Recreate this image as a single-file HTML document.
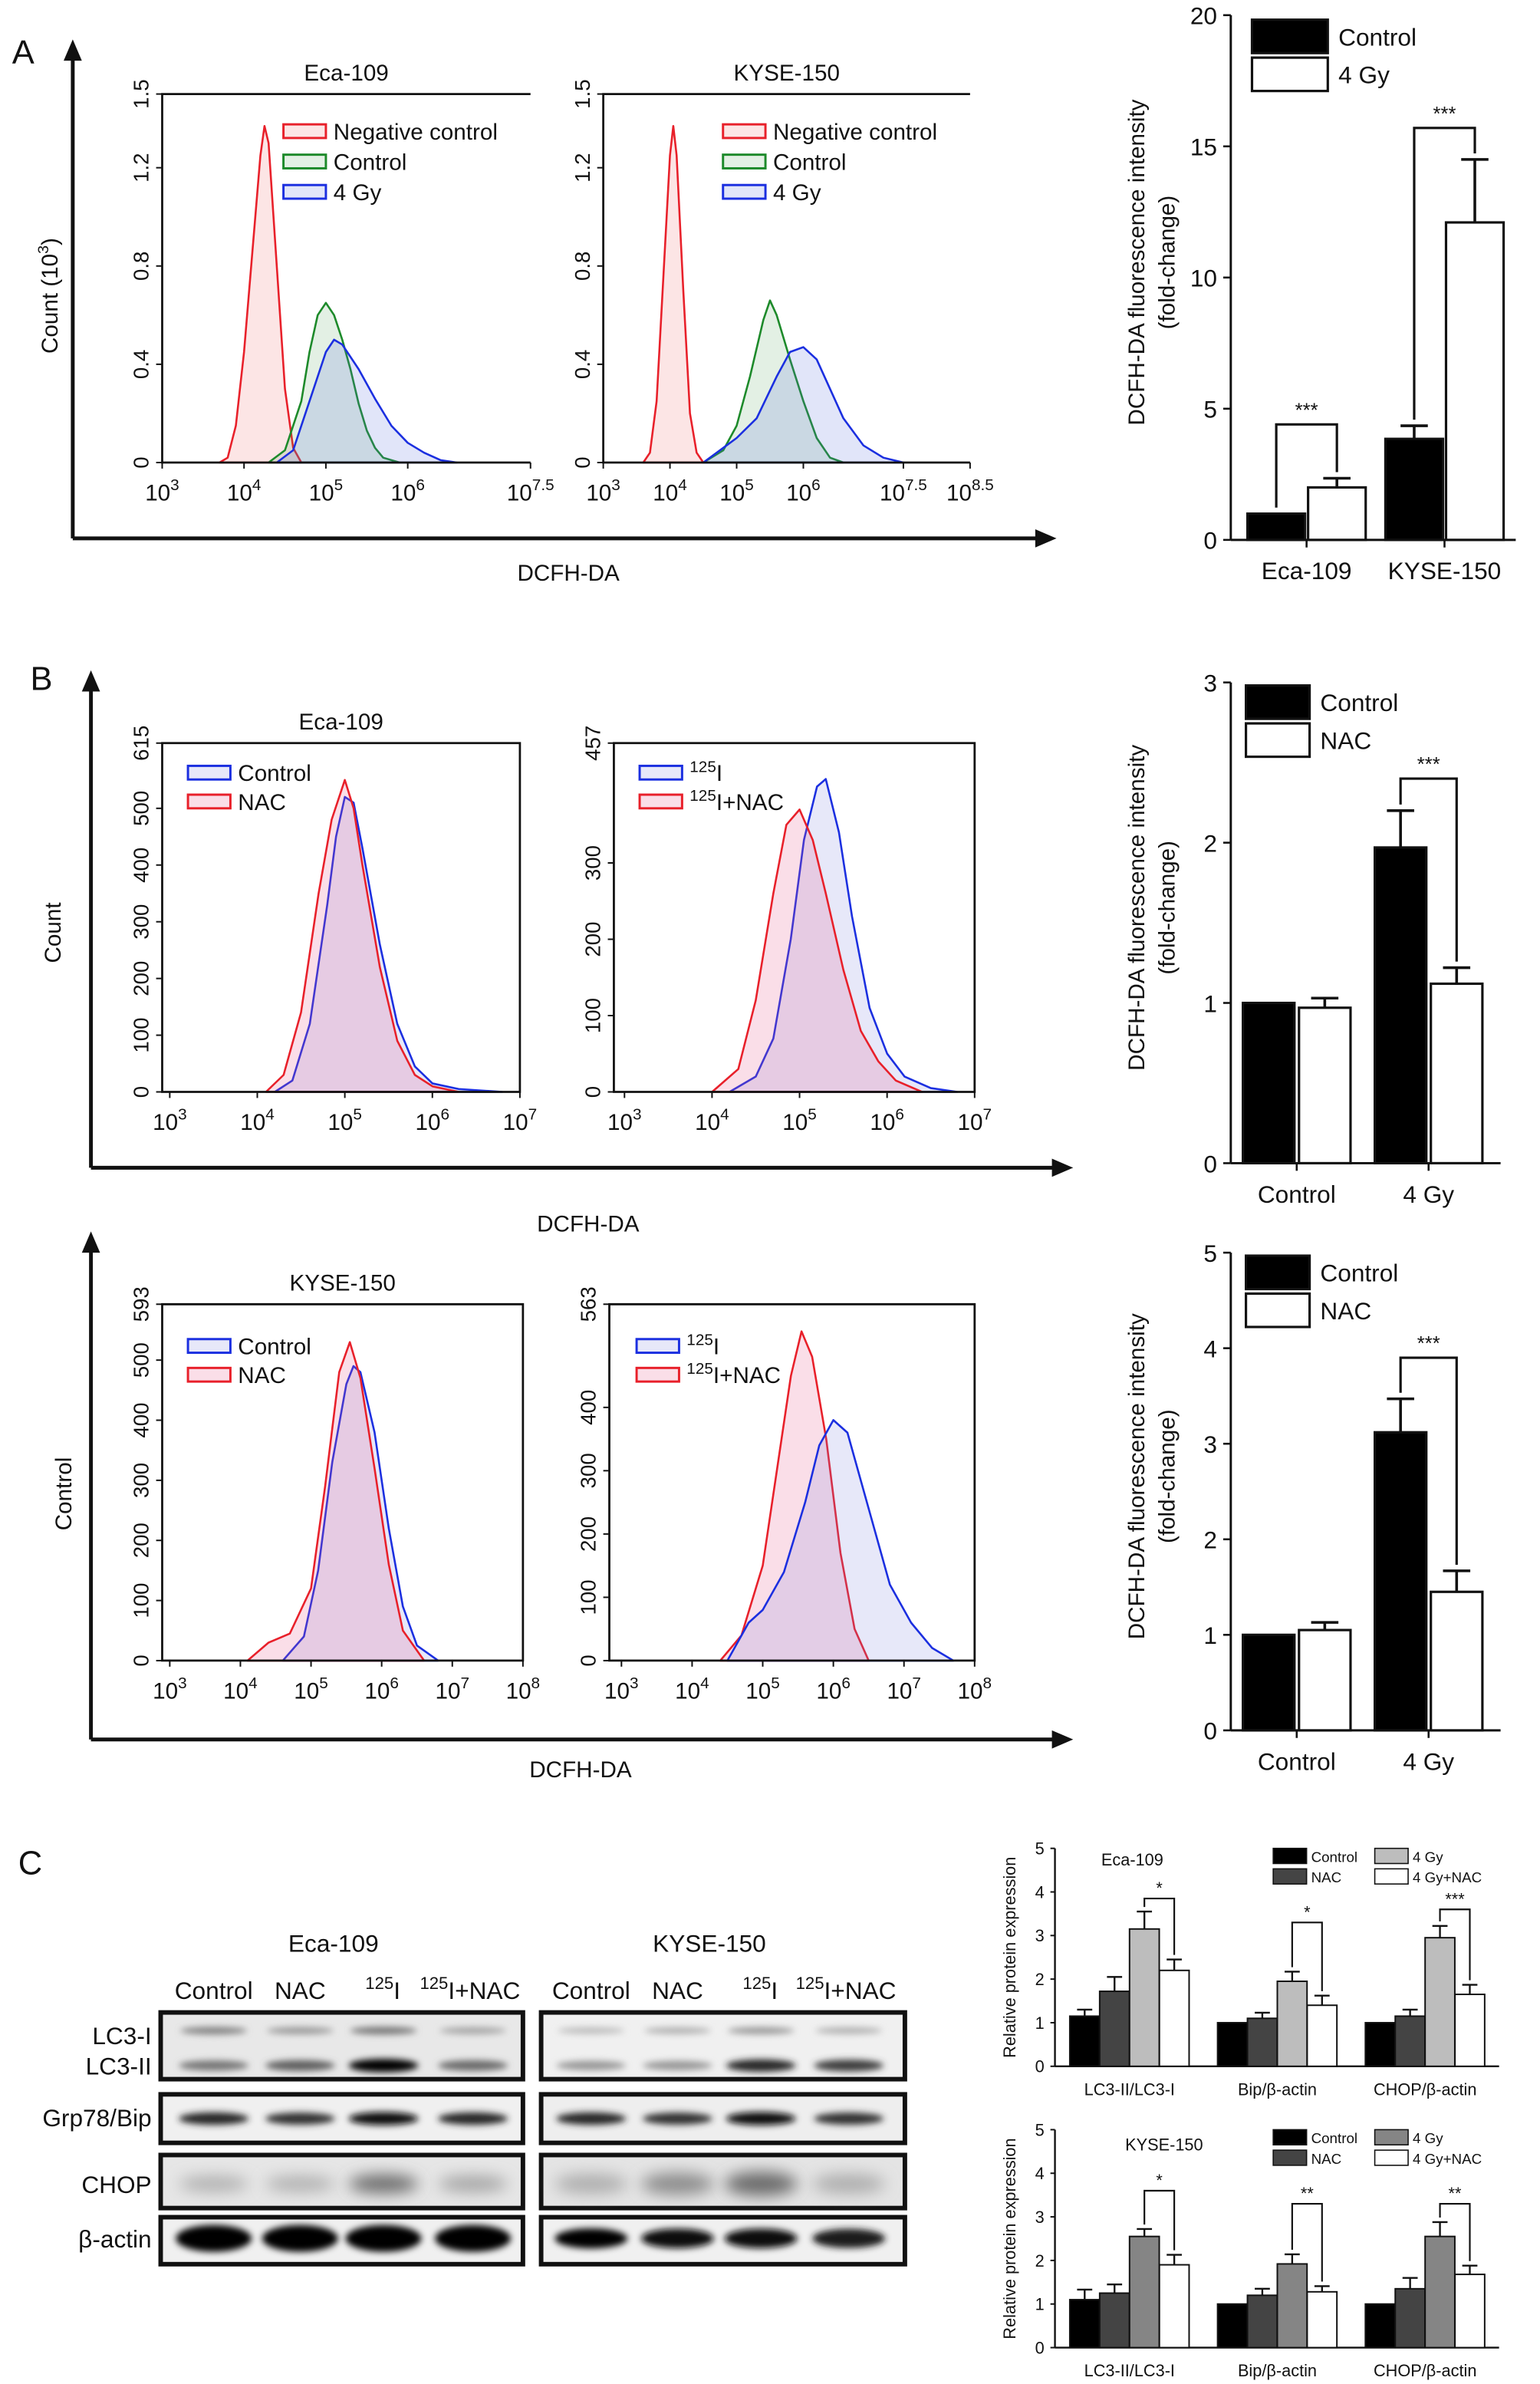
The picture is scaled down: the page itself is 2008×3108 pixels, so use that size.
<!DOCTYPE html>
<html><head><meta charset="utf-8">
<style>
html,body{margin:0;padding:0;background:#fff;}
svg{display:block;}
text{font-family:"Liberation Sans",sans-serif;fill:#111;}
</style></head>
<body>
<svg id="fig" width="2008" height="3108" viewBox="0 0 1016 1572" preserveAspectRatio="none" xmlns="http://www.w3.org/2000/svg">
<defs>
<filter id="blur" x="-30%" y="-100%" width="160%" height="300%"><feGaussianBlur stdDeviation="2.2"/></filter>
<filter id="blur2" x="-30%" y="-100%" width="160%" height="300%"><feGaussianBlur stdDeviation="5"/></filter>
</defs>
</svg>
<script>
// ---------- DATA ----------
const aEcaNegX=[3.7,3.8,3.9,4.0,4.1,4.2,4.25,4.3,4.4,4.5,4.6,4.7];
const aEcaNegY=[0,0.02,0.15,0.45,0.85,1.25,1.37,1.3,0.8,0.3,0.06,0];
const aEcaCtlX=[4.3,4.5,4.7,4.8,4.9,5.0,5.1,5.2,5.3,5.4,5.5,5.6,5.7,5.9];
const aEcaCtlY=[0,0.05,0.25,0.45,0.6,0.65,0.6,0.5,0.38,0.24,0.13,0.06,0.02,0];
const aEcaGyX=[4.4,4.6,4.8,5.0,5.1,5.2,5.4,5.6,5.8,6.0,6.2,6.4,6.6];
const aEcaGyY=[0,0.05,0.25,0.45,0.5,0.48,0.38,0.26,0.15,0.08,0.04,0.01,0];
const aKyNegX=[3.6,3.7,3.8,3.9,4.0,4.05,4.1,4.2,4.3,4.4,4.5];
const aKyNegY=[0,0.04,0.25,0.75,1.25,1.37,1.25,0.7,0.2,0.04,0];
const aKyCtlX=[4.5,4.8,5.0,5.2,5.4,5.5,5.6,5.8,6.0,6.2,6.4,6.6];
const aKyCtlY=[0,0.05,0.15,0.35,0.58,0.66,0.6,0.42,0.25,0.1,0.02,0];
const aKyGyX=[4.5,4.8,5.0,5.3,5.6,5.8,6.0,6.2,6.4,6.6,6.9,7.2,7.5];
const aKyGyY=[0,0.06,0.1,0.18,0.35,0.45,0.47,0.42,0.3,0.18,0.07,0.02,0];
const b1CtlX=[4.2,4.4,4.6,4.8,4.9,5.0,5.1,5.2,5.4,5.6,5.8,6.0,6.3,6.8];
const b1CtlY=[0,20,120,330,450,520,510,430,260,120,45,15,5,0];
const b1NacX=[4.1,4.3,4.5,4.7,4.85,5.0,5.1,5.2,5.4,5.6,5.8,6.0,6.3];
const b1NacY=[0,30,140,350,480,550,500,400,220,90,30,10,0];
const b1IX=[4.2,4.5,4.7,4.9,5.05,5.2,5.3,5.45,5.6,5.8,6.0,6.2,6.5,6.8];
const b1IY=[0,20,70,200,330,400,410,340,230,110,50,20,5,0];
const b1INX=[4.0,4.3,4.5,4.7,4.85,5.0,5.15,5.3,5.5,5.7,5.9,6.1,6.4];
const b1INY=[0,30,120,260,350,370,330,260,160,80,40,15,0];
const b2CtlX=[4.6,4.9,5.1,5.3,5.5,5.6,5.7,5.9,6.1,6.3,6.5,6.8];
const b2CtlY=[0,40,150,330,460,490,480,380,220,90,25,0];
const b2NacX=[4.1,4.4,4.7,5.0,5.2,5.4,5.55,5.7,5.9,6.1,6.3,6.6];
const b2NacY=[0,30,45,120,290,480,530,470,320,160,50,0];
const b2INX=[4.4,4.7,5.0,5.2,5.4,5.55,5.7,5.9,6.1,6.3,6.5];
const b2INY=[0,40,150,300,450,520,480,350,170,50,0];
const b2IX=[4.5,4.8,5.0,5.3,5.6,5.8,6.0,6.2,6.5,6.8,7.1,7.4,7.7];
const b2IY=[0,60,80,140,250,340,380,360,240,120,60,20,0];
const barAcats=["Eca-109","KYSE-150"];
const barActl=[1,3.85]; const barActlErr=[0,0.5];
const barAgy=[2.0,12.1]; const barAgyErr=[0.35,2.4];
const barAticks=[0,5,10,15,20];
const barB1cats=["Control","4 Gy"];
const barB1ctl=[1,1.97]; const barB1ctlErr=[0,0.23];
const barB1nac=[0.97,1.12]; const barB1nacErr=[0.06,0.1];
const barB1ticks=[0,1,2,3];
const barB2ctl=[1,3.12]; const barB2ctlErr=[0,0.35];
const barB2nac=[1.05,1.45]; const barB2nacErr=[0.08,0.22];
const barB2ticks=[0,1,2,3,4,5];
const cCats=["LC3-II/LC3-I","Bip/β-actin","CHOP/β-actin"];
const cEcaVals=[[1.15,1.72,3.15,2.2],[1,1.1,1.95,1.4],[1,1.15,2.95,1.65]];
const cEcaErr=[[0.15,0.33,0.4,0.25],[0,0.13,0.22,0.22],[0,0.15,0.27,0.22]];
const cEcaSig=["*","*","***"]; const cEcaSigY=[3.85,3.3,3.6];
const cKyVals=[[1.1,1.25,2.55,1.9],[1,1.2,1.92,1.28],[1,1.35,2.55,1.68]];
const cKyErr=[[0.23,0.2,0.17,0.23],[0,0.15,0.22,0.13],[0,0.25,0.33,0.2]];
const cKySig=["*","**","**"]; const cKySigY=[3.6,3.3,3.3];
const cTicks=[0,1,2,3,4,5];
const wbEcaLC3I=[0.45,0.35,0.5,0.3]; const wbEcaLC3II=[0.5,0.6,1.0,0.55];
const wbEcaBip=[0.85,0.8,0.95,0.85]; const wbEcaCHOP=[0.25,0.25,0.55,0.3]; const wbEcaAct=[1,1,1,1];
const wbKyLC3I=[0.2,0.25,0.35,0.25]; const wbKyLC3II=[0.35,0.35,0.85,0.75];
const wbKyBip=[0.85,0.8,0.95,0.8]; const wbKyCHOP=[0.25,0.4,0.55,0.25]; const wbKyAct=[1,0.95,0.95,0.9];

// ---------- HELPERS ----------
const NS='http://www.w3.org/2000/svg';
const svg=document.getElementById('fig');
function mk(tag,attrs,parent){const e=document.createElementNS(NS,tag);for(const k in attrs)e.setAttribute(k,attrs[k]);(parent||svg).appendChild(e);return e;}
function txt(x,y,s,size,anchor,rot){const t=mk('text',{x:x,y:y,'font-size':size,'text-anchor':anchor||'middle'});if(rot)t.setAttribute('transform','rotate('+rot+' '+x+' '+y+')');t.textContent=s;return t;}
function sup(x,y,base,exp,size,anchor){const t=mk('text',{x:x,y:y,'font-size':size,'text-anchor':anchor||'middle'});const a=mk('tspan',{},t);a.textContent=base;const b=mk('tspan',{dy:-size*0.45,'font-size':size*0.7},t);b.textContent=exp;return t;}
function iso(x,y,rest,size,anchor){const t=mk('text',{x:x,y:y,'font-size':size,'text-anchor':anchor||'start'});const b=mk('tspan',{dy:-size*0.4,'font-size':size*0.7},t);b.textContent='125';const a=mk('tspan',{dy:size*0.4},t);a.textContent=rest;return t;}

function hist(cfg){
  const g=mk('g',{});
  
  
  const sx=v=>cfg.x0+(v-cfg.dmin)/(cfg.dmax-cfg.dmin)*(cfg.x1-cfg.x0);
  const sy=v=>cfg.yb-v/cfg.ymax*(cfg.yb-cfg.yt);
  cfg.curves.forEach(c=>{
    let d='M'+sx(c.xs[0])+','+sy(0);
    c.xs.forEach((x,i)=>{d+=' L'+sx(x).toFixed(1)+','+sy(c.ys[i]).toFixed(1);});
    const p=mk('path',{d:d+' Z',fill:c.fill,stroke:c.stroke,'stroke-width':1.3,'stroke-linejoin':'round'},g);
    
    
  });
  const frame=mk('path',{d:cfg.box?`M${cfg.bx},${cfg.yt} H${cfg.x1} V${cfg.yb} H${cfg.bx} Z`:`M${cfg.x1},${cfg.yt} H${cfg.bx} V${cfg.yb} H${cfg.x1}`,fill:'none',stroke:'#111','stroke-width':1.4},g);
  
  
  cfg.yticks.forEach((v,i)=>{
    const y=sy(v);
    mk('line',{x1:cfg.bx-4,x2:cfg.bx,y1:y,y2:y,stroke:'#111','stroke-width':1},g);
    const t=txt(cfg.bx-9,y,cfg.ylabels[i],14,'middle',-90);
    
    
  });
  cfg.xticks.forEach(v=>{
    const x=sx(v);
    mk('line',{x1:x,x2:x,y1:cfg.yb,y2:cfg.yb+4,stroke:'#111','stroke-width':1},g);
    const t=sup(x,cfg.yb+25,'10',String(v),15,'middle');
    
    
  });
  if(cfg.title){const t=txt((cfg.bx+cfg.x1)/2,cfg.yt-9,cfg.title,15);
    
    }
  cfg.legend.forEach((l,i)=>{
    const y=cfg.ly+i*cfg.lstep;
    const r=mk('rect',{x:cfg.lx,y:y-9,width:28,height:9,fill:l.fill,stroke:l.stroke,'stroke-width':1.5},g);
    
    
    const t=l.iso?iso(cfg.lx+33,y+1,l.text,15):txt(cfg.lx+33,y+1,l.text,15,'start');
    
    
  });
}
const RED='#e8202a',GRN='#1d8a2a',BLU='#1b2fe0';
const fR='rgba(240,110,110,0.18)',fG='rgba(80,160,90,0.16)',fB='rgba(90,110,220,0.18)';
const fR2='rgba(230,90,140,0.2)',fB2='rgba(120,130,220,0.18)';
const legA=[{fill:fR,stroke:RED,text:'Negative control'},{fill:fG,stroke:GRN,text:'Control'},{fill:fB,stroke:BLU,text:'4 Gy'}];

hist({name:'histogram-a-eca109',bx:107,x0:107,x1:350,yt:62,yb:305,dmin:3,dmax:7.5,ymax:1.5,yticks:[0,0.4,0.8,1.2,1.5],ylabels:['0','0.4','0.8','1.2','1.5'],xticks:[3,4,5,6,7.5],title:'Eca-109',box:false,lx:187,ly:91,lstep:20,legend:legA,
 curves:[{name:'negative-control-curve',xs:aEcaNegX,ys:aEcaNegY,fill:fR,stroke:RED},{name:'control-curve',xs:aEcaCtlX,ys:aEcaCtlY,fill:fG,stroke:GRN},{name:'4gy-curve',xs:aEcaGyX,ys:aEcaGyY,fill:fB,stroke:BLU}]});
hist({name:'histogram-a-kyse150',bx:398,x0:398,x1:640,yt:62,yb:305,dmin:3,dmax:8.5,ymax:1.5,yticks:[0,0.4,0.8,1.2,1.5],ylabels:['0','0.4','0.8','1.2','1.5'],xticks:[3,4,5,6,7.5,8.5],title:'KYSE-150',box:false,lx:477,ly:91,lstep:20,legend:legA,
 curves:[{name:'negative-control-curve',xs:aKyNegX,ys:aKyNegY,fill:fR,stroke:RED},{name:'control-curve',xs:aKyCtlX,ys:aKyCtlY,fill:fG,stroke:GRN},{name:'4gy-curve',xs:aKyGyX,ys:aKyGyY,fill:fB,stroke:BLU}]});

hist({name:'histogram-b-eca109-nac',bx:107,x0:112,x1:343,yt:490,yb:720,dmin:3,dmax:7,ymax:615,yticks:[0,100,200,300,400,500,615],ylabels:['0','100','200','300','400','500','615'],xticks:[3,4,5,6,7],title:'Eca-109',box:true,lx:124,ly:514,lstep:19,
 legend:[{fill:fB2,stroke:BLU,text:'Control'},{fill:fR2,stroke:RED,text:'NAC'}],
 curves:[{name:'control-curve',xs:b1CtlX,ys:b1CtlY,fill:fB2,stroke:BLU},{name:'nac-curve',xs:b1NacX,ys:b1NacY,fill:fR2,stroke:RED}]});
hist({name:'histogram-b-eca109-125i',bx:405,x0:412,x1:643,yt:490,yb:720,dmin:3,dmax:7,ymax:457,yticks:[0,100,200,300,457],ylabels:['0','100','200','300','457'],xticks:[3,4,5,6,7],title:'',box:true,lx:422,ly:514,lstep:19,
 legend:[{fill:fB2,stroke:BLU,text:'I',iso:true},{fill:fR2,stroke:RED,text:'I+NAC',iso:true}],
 curves:[{name:'125i-curve',xs:b1IX,ys:b1IY,fill:fB2,stroke:BLU},{name:'125i-nac-curve',xs:b1INX,ys:b1INY,fill:fR2,stroke:RED}]});
hist({name:'histogram-b-kyse150-nac',bx:107,x0:112,x1:345,yt:860,yb:1095,dmin:3,dmax:8,ymax:593,yticks:[0,100,200,300,400,500,593],ylabels:['0','100','200','300','400','500','593'],xticks:[3,4,5,6,7,8],title:'KYSE-150',box:true,lx:124,ly:892,lstep:19,
 legend:[{fill:fB2,stroke:BLU,text:'Control'},{fill:fR2,stroke:RED,text:'NAC'}],
 curves:[{name:'control-curve',xs:b2CtlX,ys:b2CtlY,fill:fB2,stroke:BLU},{name:'nac-curve',xs:b2NacX,ys:b2NacY,fill:fR2,stroke:RED}]});
hist({name:'histogram-b-kyse150-125i',bx:402,x0:410,x1:643,yt:860,yb:1095,dmin:3,dmax:8,ymax:563,yticks:[0,100,200,300,400,563],ylabels:['0','100','200','300','400','563'],xticks:[3,4,5,6,7,8],title:'',box:true,lx:420,ly:892,lstep:19,
 legend:[{fill:fB2,stroke:BLU,text:'I',iso:true},{fill:fR2,stroke:RED,text:'I+NAC',iso:true}],
 curves:[{name:'125i-nac-curve',xs:b2INX,ys:b2INY,fill:fR2,stroke:RED},{name:'125i-curve',xs:b2IX,ys:b2IY,fill:fB2,stroke:BLU}]});

function arrowAxes(x,yt,yb,xr,name){
  const g=mk('g',{});
  
  
  mk('line',{x1:x,y1:yb,x2:x,y2:yt+8,stroke:'#111','stroke-width':2.5},g);
  mk('path',{d:`M${x-6},${yt+14} L${x},${yt} L${x+6},${yt+14} Z`,fill:'#111'},g);
  mk('line',{x1:x,y1:yb,x2:xr-8,y2:yb,stroke:'#111','stroke-width':2.5},g);
  mk('path',{d:`M${xr-14},${yb-6} L${xr},${yb} L${xr-14},${yb+6} Z`,fill:'#111'},g);
}
arrowAxes(48,26,355,697,'panel-a-axes');
arrowAxes(60,442,770,708,'panel-b-top-axes');
arrowAxes(60,812,1147,708,'panel-b-bottom-axes');
[[8,42,'A'],[20,455,'B'],[12,1236,'C']].forEach(p=>{const t=txt(p[0],p[1],p[2],22,'start');
 
 });
[[375,383],[388,812],[383,1172]].forEach(p=>{const t=txt(p[0],p[1],'DCFH-DA',15);
 
 });
{const t=mk('text',{x:38,y:195,'font-size':15,'text-anchor':'middle',transform:'rotate(-90 38 195)'});
 
 
 const a=mk('tspan',{},t);a.textContent='Count (10';const b=mk('tspan',{dy:-6,'font-size':10},t);b.textContent='3';const c=mk('tspan',{dy:6},t);c.textContent=')';}
{const t=txt(40,615,'Count',15,'middle',-90);}
{const t=txt(47,985,'Control',15,'middle',-90);}

function bar2(cfg){
  const g=mk('g',{});
  
  
  const sy=v=>cfg.yb-v/cfg.ymax*(cfg.yb-cfg.yt);
  mk('line',{x1:cfg.ax,x2:cfg.ax,y1:cfg.yt,y2:cfg.yb,stroke:'#111','stroke-width':1.5},g);
  mk('line',{x1:cfg.ax,x2:cfg.xr,y1:cfg.yb,y2:cfg.yb,stroke:'#111','stroke-width':1.5},g);
  cfg.ticks.forEach(v=>{mk('line',{x1:cfg.ax-5,x2:cfg.ax,y1:sy(v),y2:sy(v),stroke:'#111','stroke-width':1.3},g);
    const t=txt(cfg.ax-9,sy(v)+6,String(v),16,'end');
    
    });
  cfg.cats.forEach((c,i)=>{
    const gx=cfg.g0+i*cfg.gstep;
    [[cfg.a,cfg.aErr,'#000','control'],[cfg.b,cfg.bErr,'#fff',cfg.bname]].forEach((s,j)=>{
      const x=gx+j*(cfg.bw+cfg.gap), v=s[0][i], e=s[1][i];
      const r=mk('rect',{x:x,y:sy(v),width:cfg.bw,height:sy(0)-sy(v),fill:s[2],stroke:'#111','stroke-width':1.6},g);
      
      
      if(e>0){const cx=x+cfg.bw/2;mk('path',{d:`M${cx},${sy(v)} V${sy(v+e)} M${cx-9},${sy(v+e)} H${cx+9}`,stroke:'#111','stroke-width':1.8,fill:'none'},g);}
    });
    const t=txt(gx+cfg.bw+cfg.gap/2,cfg.yb+26,c,16);
    
    
    mk('line',{x1:gx+cfg.bw+cfg.gap/2,x2:gx+cfg.bw+cfg.gap/2,y1:cfg.yb,y2:cfg.yb+5,stroke:'#111','stroke-width':1.3},g);
  });
  cfg.sig.forEach(s=>{
    const gx=cfg.g0+s.i*cfg.gstep, x1=gx+cfg.bw/2, x2=gx+cfg.bw*1.5+cfg.gap;
    const v1=cfg.a[s.i]+cfg.aErr[s.i], v2=cfg.b[s.i]+cfg.bErr[s.i];
    const p=mk('path',{d:`M${x1},${sy(v1)-4} V${sy(s.y)} H${x2} V${sy(v2)-4}`,stroke:'#111','stroke-width':1.6,fill:'none'},g);
    
    
    const t=txt((x1+x2)/2,sy(s.y)-5,'***',13);
    
    
  });
  [['#000','Control'],['#fff',cfg.bname]].forEach((l,i)=>{
    const y=cfg.ly+i*cfg.lstep;
    const r=mk('rect',{x:cfg.lx,y:y,width:cfg.lw,height:cfg.lh,fill:l[0],stroke:'#111','stroke-width':1.6},g);
    
    
    const t=txt(cfg.lx+cfg.lw+7,y+cfg.lh-5,l[1],16,'start');
    
    
  });
  const cy=(cfg.yt+cfg.yb)/2-10;
  const t1=txt(cfg.tx,cy,'DCFH-DA fluorescence intensity',15,'middle',-90);
  
  
  const t2=txt(cfg.tx+20,cy,'(fold-change)',15,'middle',-90);
  
  
}
bar2({name:'bar-chart-a',ax:812,xr:1000,yt:10,yb:356,ymax:20,ticks:barAticks,cats:barAcats,a:barActl,aErr:barActlErr,b:barAgy,bErr:barAgyErr,bname:'4 Gy',
  g0:823,gstep:91,bw:38,gap:2,sig:[{i:0,y:4.4},{i:1,y:15.7}],lx:826,ly:13,lstep:25,lw:50,lh:22,tx:755});
bar2({name:'bar-chart-b-eca109',ax:812,xr:990,yt:450,yb:767,ymax:3,ticks:barB1ticks,cats:barB1cats,a:barB1ctl,aErr:barB1ctlErr,b:barB1nac,bErr:barB1nacErr,bname:'NAC',
  g0:820,gstep:87,bw:34,gap:3,sig:[{i:1,y:2.4}],lx:822,ly:452,lstep:25,lw:42,lh:22,tx:755});
bar2({name:'bar-chart-b-kyse150',ax:812,xr:990,yt:826,yb:1141,ymax:5,ticks:barB2ticks,cats:barB1cats,a:barB2ctl,aErr:barB2ctlErr,b:barB2nac,bErr:barB2nacErr,bname:'NAC',
  g0:820,gstep:87,bw:34,gap:3,sig:[{i:1,y:3.9}],lx:822,ly:828,lstep:25,lw:42,lh:22,tx:755});

const lanesL=[141,198,253,312], lanesR=[390,447,502,560];
function blot(x0,x1,rows,lanes,name){
  const g=mk('g',{});
  
  
  rows.forEach(r=>{
    const box=mk('rect',{x:x0,y:r.y0,width:x1-x0,height:r.y1-r.y0,fill:r.bg,stroke:'#111','stroke-width':3},g);
    
    
    r.bands.forEach(b=>{
      b.vals.forEach((v,i)=>{
        const c=Math.round(230-225*v);
        const e=mk('ellipse',{cx:lanes[i],cy:b.y,rx:b.rx,ry:b.ry*(0.6+0.5*v),fill:`rgb(${c},${c},${c})`,filter:b.soft?'url(#blur2)':'url(#blur)'},g);
        
        
      });
    });
  });
}
const rowsEca=[{y0:1327,y1:1371,bg:'#e8e8e8',bands:[{y:1339,rx:22,ry:3,vals:wbEcaLC3I},{y:1362,rx:23,ry:4,vals:wbEcaLC3II}]},
 {y0:1381,y1:1413,bg:'#f0f0f0',bands:[{y:1397,rx:23,ry:4,vals:wbEcaBip}]},
 {y0:1421,y1:1456,bg:'#e6e6e6',bands:[{y:1440,rx:23,ry:7,vals:wbEcaCHOP,soft:true}]},
 {y0:1462,y1:1493,bg:'#f0f0f0',bands:[{y:1476,rx:25,ry:8,vals:wbEcaAct}]}];
const rowsKy=[{y0:1327,y1:1371,bg:'#f0f0f0',bands:[{y:1339,rx:22,ry:3,vals:wbKyLC3I},{y:1362,rx:23,ry:4,vals:wbKyLC3II}]},
 {y0:1381,y1:1413,bg:'#eeeeee',bands:[{y:1397,rx:23,ry:4,vals:wbKyBip}]},
 {y0:1421,y1:1456,bg:'#e4e4e4',bands:[{y:1440,rx:24,ry:9,vals:wbKyCHOP,soft:true}]},
 {y0:1462,y1:1493,bg:'#f0f0f0',bands:[{y:1476,rx:24,ry:6,vals:wbKyAct}]}];
blot(106,345,rowsEca,lanesL,'western-blot-eca109');
blot(357,597,rowsKy,lanesR,'western-blot-kyse150');
[[220,1287,'Eca-109'],[468,1287,'KYSE-150']].forEach(p=>{const t=txt(p[0],p[1],p[2],16);});
[[lanesL,1318],[lanesR,1318]].forEach(p=>{
  ['Control','NAC'].forEach((s,i)=>{const t=txt(p[0][i],p[1],s,16);});
  {const t=iso(p[0][2]-12,p[1],'I',16);}
  {const t=iso(p[0][3]-35,p[1],'I+NAC',16);}
});
[[100,1348,'LC3-I'],[100,1368,'LC3-II'],[100,1402,'Grp78/Bip'],[100,1446,'CHOP'],[100,1482,'β-actin']].forEach(p=>{
  const t=txt(p[0],p[1],p[2],16,'end');});

function barC(cfg){
  const g=mk('g',{});
  
  
  const sy=v=>cfg.yb-v/5*(cfg.yb-cfg.yt);
  const bw=19.6, step=19.7, gstep=97.5, x0=705.8;
  mk('line',{x1:696,x2:696,y1:cfg.yt,y2:cfg.yb,stroke:'#111','stroke-width':1.2},g);
  mk('line',{x1:696,x2:989,y1:cfg.yb,y2:cfg.yb,stroke:'#111','stroke-width':1.2},g);
  cTicks.forEach(v=>{mk('line',{x1:693,x2:696,y1:sy(v),y2:sy(v),stroke:'#111'},g);
    const t=txt(689,sy(v)+4,String(v),11,'end');});
  cCats.forEach((c,i)=>{
    const gx=x0+i*gstep;
    cfg.vals[i].forEach((v,j)=>{
      const x=gx+j*step, e=cfg.err[i][j];
      const r=mk('rect',{x:x,y:sy(v),width:bw,height:sy(0)-sy(v),fill:cfg.colors[j],stroke:'#111','stroke-width':1},g);
      
      
      if(e>0){const cx=x+bw/2;mk('path',{d:`M${cx},${sy(v)} V${sy(v+e)} M${cx-5},${sy(v+e)} H${cx+5}`,stroke:'#111','stroke-width':1.2,fill:'none'},g);}
    });
    const x1=gx+2*step+bw/2, x2=gx+3*step+bw/2;
    const p=mk('path',{d:`M${x1},${sy(cfg.vals[i][2]+cfg.err[i][2])-3} V${sy(cfg.sigY[i])} H${x2} V${sy(cfg.vals[i][3]+cfg.err[i][3])-3}`,stroke:'#111','stroke-width':1.1,fill:'none'},g);
    
    
    const s=txt((x1+x2)/2,sy(cfg.sigY[i])-3,cfg.sig[i],11);
    const t=txt(gx+2*step,cfg.yb+19,c,11);
  });
  const tt=txt(cfg.tx,cfg.ty,cfg.title,11,'middle');
  const yt=txt(670,(cfg.yt+cfg.yb)/2,'Relative protein expression',11,'middle',-90);
  [[840,0,'Control',0],[840,1,'NAC',1],[907,0,'4 Gy',2],[907,1,'4 Gy+NAC',3]].forEach(l=>{
    const y=cfg.yt+l[1]*13.5;
    const r=mk('rect',{x:l[0],y:y,width:22,height:10,fill:cfg.colors[l[3]],stroke:'#111','stroke-width':0.8},g);
    
    const t=txt(l[0]+25,y+9,l[2],9.5,'start');
  });
}
barC({name:'bar-chart-c-eca109',yt:1218.8,yb:1362.5,vals:cEcaVals,err:cEcaErr,sig:cEcaSig,sigY:cEcaSigY,colors:['#000','#444','#bdbdbd','#fff'],title:'Eca-109',tx:747,ty:1230});
barC({name:'bar-chart-c-kyse150',yt:1404.3,yb:1548,vals:cKyVals,err:cKyErr,sig:cKySig,sigY:cKySigY,colors:['#000','#444','#858585','#fff'],title:'KYSE-150',tx:768,ty:1418});
</script>
</body></html>
